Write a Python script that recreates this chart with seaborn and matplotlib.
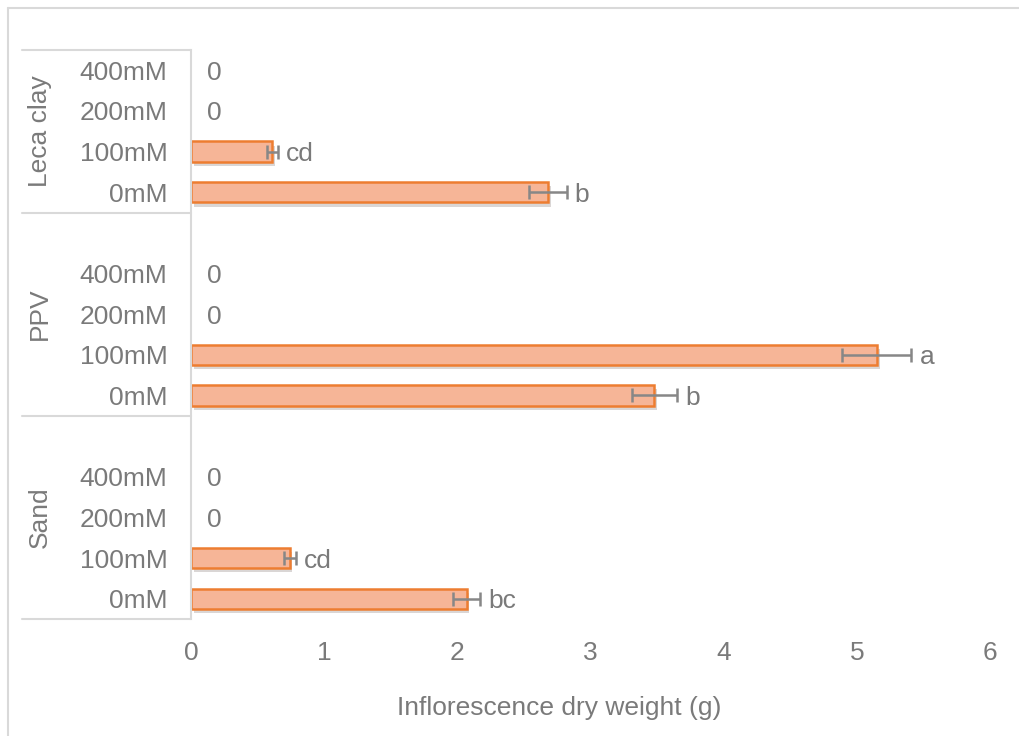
import matplotlib
matplotlib.use("Agg")
import matplotlib.pyplot as plt
import matplotlib.patheffects as pe
import matplotlib.transforms as mtransforms
import seaborn as sns
import pandas as pd

# datos
soils = ["Leca clay", "PPV", "Sand"]
nacl = ["400mM", "200mM", "100mM", "0mM"]
weight = [0, 0, 0.61, 2.68,
          0, 0, 5.15, 3.48,
          0, 0, 0.74, 2.07]
err = [0, 0, 0.04, 0.14,
       0, 0, 0.26, 0.17,
       0, 0, 0.045, 0.10]
letters = ["0", "0", "cd", "b",
           "0", "0", "a", "b",
           "0", "0", "cd", "bc"]

# posiciones: 4 barras por sustrato y un hueco entre grupos
rows = []
for g, soil in enumerate(soils):
    for i, n in enumerate(nacl):
        k = g * 4 + i
        rows.append({"soil": soil, "nacl": n, "pos": g * 5 + i,
                     "weight": weight[k], "err": err[k], "letter": letters[k]})
df = pd.DataFrame(rows)

sns.set_style("white")
plt.rcParams["font.family"] = ["Liberation Sans", "DejaVu Sans"]
gray = "#7A7A7A"
fs = 19

fig = plt.figure(figsize=(10.2, 7.36), dpi=100)
ax = fig.add_axes([191 / 1020, 1 - 619 / 736, 799 / 1020, 569 / 736])

sns.barplot(data=df, x="weight", y="pos", orient="h", native_scale=True,
            color="#F6B597", saturation=1, edgecolor="#ED7D31", linewidth=1.8,
            width=0.5, errorbar=None, ax=ax)
for p in ax.patches:
    if p.get_width() == 0:
        p.set_visible(False)
    p.set_path_effects([pe.SimplePatchShadow(offset=(2, -3), alpha=0.2), pe.Normal()])

nz = df[df["weight"] > 0]
ax.errorbar(nz["weight"], nz["pos"], xerr=nz["err"], fmt="none",
            ecolor="#878787", elinewidth=1.8, capsize=5, capthick=1.8)

for _, r in df.iterrows():
    x = r["weight"] + r["err"] + (0.06 if r["weight"] > 0 else 0.12)
    ax.text(x, r["pos"], r["letter"], va="center_baseline", ha="left",
            fontsize=fs, color=gray)

ax.set_xlim(0, 6)
ax.set_ylim(13.5, -0.5)
ax.set_xticks(range(0, 7))
ax.set_yticks(df["pos"])
ax.set_yticklabels(df["nacl"])
ax.tick_params(axis="y", length=0, pad=17, labelsize=fs, labelcolor=gray)
ax.tick_params(axis="x", length=0, pad=16, labelsize=fs, labelcolor=gray)
ax.set_xlabel("Inflorescence dry weight (g)", fontsize=fs, color=gray,
              labelpad=22, x=(559 - 191) / 799)
ax.set_ylabel("")
for s in ["top", "right", "bottom"]:
    ax.spines[s].set_visible(False)
ax.spines["left"].set_color("#D9D9D9")
ax.spines["left"].set_linewidth(1.5)

# líneas separadoras y nombres de sustrato
trans = mtransforms.blended_transform_factory(ax.transAxes, ax.transData)
x0 = (22 - 191) / 799
for b in [-0.5, 3.5, 8.5, 13.5]:
    ax.plot([x0, 0], [b, b], color="#D9D9D9", lw=1.5, transform=trans, clip_on=False)
for g, soil in enumerate(soils):
    lo = -0.5 if g == 0 else g * 5 - 1.5
    hi = g * 5 + 3.5
    ax.text((40 - 191) / 799, (lo + hi) / 2, soil, rotation=90, ha="center",
            va="center", fontsize=fs, color=gray, transform=trans)

# marco exterior del gráfico
fig.add_artist(plt.Line2D([8 / 1020, 8 / 1020], [0, 1 - 8 / 736], color="#D9D9D9",
                          lw=1.5, transform=fig.transFigure))
fig.add_artist(plt.Line2D([8 / 1020, 1], [1 - 8 / 736, 1 - 8 / 736], color="#D9D9D9",
                          lw=1.5, transform=fig.transFigure))

fig.savefig("out.png", dpi=100)
